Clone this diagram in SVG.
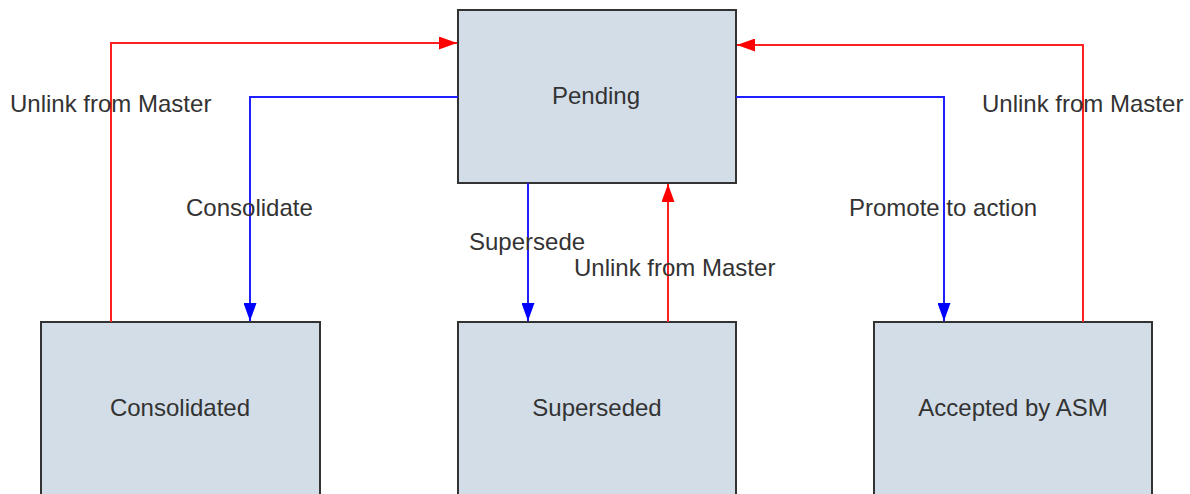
<svg xmlns="http://www.w3.org/2000/svg" width="1190" height="494" viewBox="0 0 1190 494">
<style>
.node rect{fill:#d2dde7;stroke:#333;stroke-width:2}
.node text,.lbl{font-family:"Liberation Sans",Arial,sans-serif;font-size:24px;fill:#333}
.node text{text-anchor:middle}
.red{stroke:#ff2020;stroke-width:2;fill:none}
.blue{stroke:#2020ff;stroke-width:2;fill:none}
</style>
<defs>
<marker id="ar" viewBox="0 0 18 13" refX="18" refY="6.5" markerWidth="18" markerHeight="13" markerUnits="userSpaceOnUse" orient="auto"><path d="M0,0L18,6.5L0,13z" fill="#ff0000"/></marker>
<marker id="ab" viewBox="0 0 18 13" refX="18" refY="6.5" markerWidth="18" markerHeight="13" markerUnits="userSpaceOnUse" orient="auto"><path d="M0,0L18,6.5L0,13z" fill="#0000ff"/></marker>
</defs>
<rect width="1190" height="494" fill="#fff"/>
<g id="pending" class="node"><rect x="458" y="10" width="278" height="173"/><text x="596" y="104">Pending</text></g>
<g id="consolidated" class="node"><rect x="41" y="322" width="279" height="180"/><text x="180" y="416">Consolidated</text></g>
<g id="superseded" class="node"><rect x="458" y="322" width="278" height="180"/><text x="597" y="416">Superseded</text></g>
<g id="accepted" class="node"><rect x="874" y="322" width="278" height="180"/><text x="1013" y="416">Accepted by ASM</text></g>
<g id="connectors">
<path class="red" d="M111,322V43H457" marker-end="url(#ar)"/>
<path class="blue" d="M458,97H250V321" marker-end="url(#ab)"/>
<path class="blue" d="M528,183V321" marker-end="url(#ab)"/>
<path class="red" d="M668,322V184" marker-end="url(#ar)"/>
<path class="blue" d="M736,97H944V321" marker-end="url(#ab)"/>
<path class="red" d="M1083,322V45H737" marker-end="url(#ar)"/>
</g>
<g id="labels">
<text class="lbl" x="10" y="112">Unlink from Master</text>
<text class="lbl" x="186" y="216">Consolidate</text>
<text class="lbl" x="469" y="250">Supersede</text>
<text class="lbl" x="574" y="276">Unlink from Master</text>
<text class="lbl" x="849" y="216">Promote to action</text>
<text class="lbl" x="982" y="112">Unlink from Master</text>
</g>
</svg>
